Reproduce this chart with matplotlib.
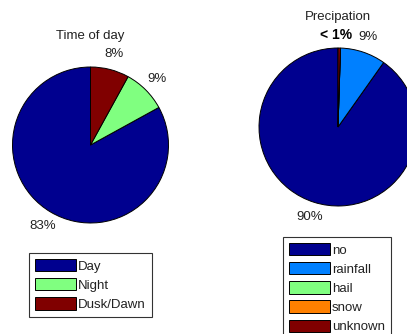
import matplotlib
matplotlib.use("Agg")
import matplotlib.pyplot as plt
from matplotlib.patches import Patch

plt.rcParams["font.family"] = ["Liberation Sans", "DejaVu Sans"]

# ── data ───────────────────────────────────────────
time_labels = ["Day", "Night", "Dusk/Dawn"]
time_values = [0.83, 0.09, 0.08]
time_texts = ["83%", "9%", "8%"]
time_colors = ["#00008F", "#80FF80", "#800000"]

precip_labels = ["no", "rainfall", "hail", "snow", "unknown"]
precip_values = [0.902, 0.093, 0.0, 0.0, 0.005]
precip_texts = ["90%", "9%", "", "", "< 1%"]
precip_colors = ["#00008F", "#0080FF", "#80FF80", "#FF8000", "#800000"]

W, H = 407, 334
FS = 9.5


def pie_axes(fig, cx, cy, r):
    """axes placed so that the unit pie has centre (cx, cy) and radius r in pixels"""
    return fig.add_axes([(cx - r) / W, (H - cy - r) / H, 2 * r / W, 2 * r / H])


def draw_pie(ax, values, texts, colors, title, title_y):
    wedges, labels = ax.pie(values, labels=texts, colors=colors, startangle=90,
                            counterclock=True, radius=1, labeldistance=1.2,
                            wedgeprops=dict(edgecolor="black", linewidth=0.7),
                            textprops=dict(fontsize=FS, color="#222222"))
    # pie() resets the limits, so fix them afterwards
    ax.set_xlim(-1, 1)
    ax.set_ylim(-1, 1)
    ax.axis("off")
    for t in labels:
        t.set_ha("center")
        t.set_va("center")
    ax.text(0, title_y, title, ha="center", va="center", fontsize=FS,
            color="#222222")
    return wedges, labels


def add_legend(fig, names, colors, x, y):
    handles = [Patch(facecolor=c, edgecolor="black", linewidth=0.7) for c in colors]
    leg = fig.legend(handles, names, loc="upper left",
                     bbox_to_anchor=(x / W, 1 - y / H), fontsize=FS,
                     frameon=True, fancybox=False, borderaxespad=0,
                     handlelength=3.1, handleheight=1.05, handletextpad=0.15,
                     labelspacing=0.42, borderpad=0.45)
    leg.get_frame().set_edgecolor("black")
    leg.get_frame().set_linewidth(0.8)
    for t in leg.get_texts():
        t.set_color("#222222")
    return leg


fig = plt.figure(figsize=(W / 100, H / 100), dpi=100)

ax1 = pie_axes(fig, 90.5, 145, 78)
draw_pie(ax1, time_values, time_texts, time_colors, "Time of day", 1.40)

ax2 = pie_axes(fig, 338, 127, 79)
_, plabels = draw_pie(ax2, precip_values, precip_texts, precip_colors,
                      "Precipation", 1.39)
for t in plabels:
    if t.get_text().startswith("<"):
        t.set_fontweight("bold")
        t.set_color("black")
        t.set_fontsize(FS + 0.5)
        t.set_position((-0.02, 1.16))

add_legend(fig, time_labels, time_colors, 29, 253)
add_legend(fig, precip_labels, precip_colors, 283, 237)

fig.savefig("out.png", dpi=100)
